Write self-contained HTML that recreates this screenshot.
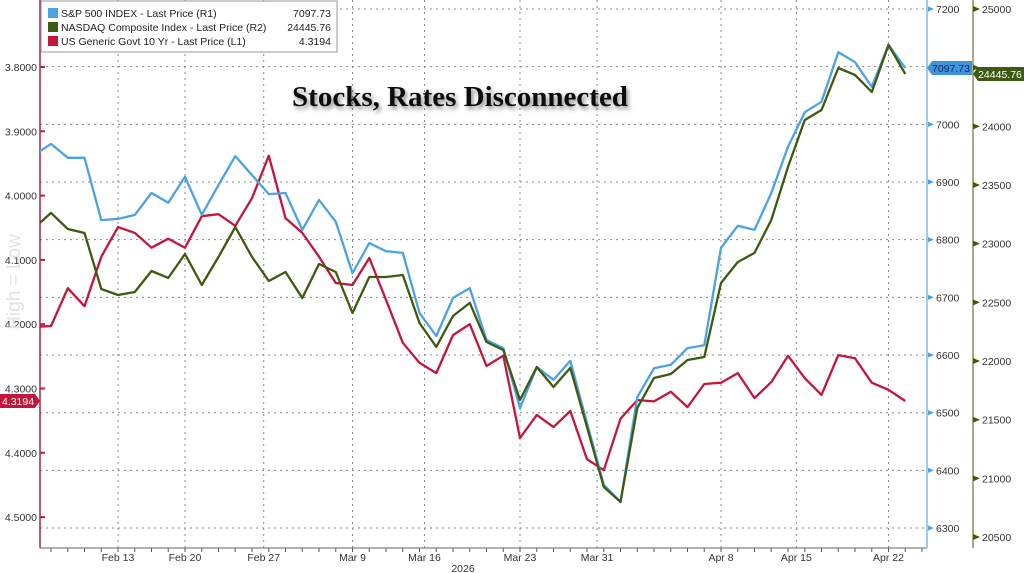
<!DOCTYPE html>
<html><head><meta charset="utf-8"><style>
body{margin:0;background:#fff;}
svg{display:block;font-family:"Liberation Sans",sans-serif;}
</style></head><body>
<svg id="chart" width="1024" height="573" viewBox="0 0 1024 573">
<defs><clipPath id="plotclip"><rect x="40" y="0" width="887" height="548"/></clipPath>
<filter id="sh" x="-10%" y="-50%" width="120%" height="200%"><feDropShadow dx="2" dy="3" stdDeviation="2" flood-color="#000" flood-opacity="0.45"/></filter></defs>
<g id="grid"></g>
<g id="axes"></g>
<g id="series" clip-path="url(#plotclip)"></g>
<text x="460" y="106" text-anchor="middle" font-family="'Liberation Serif',serif" font-weight="bold" font-size="29" fill="#111" filter="url(#sh)">Stocks, Rates Disconnected</text>
<text transform="translate(20,282) rotate(-90)" text-anchor="middle" font-size="19" fill="#e2e2e2">High = Low</text>
<g>
<rect x="41" y="1" width="296" height="51" fill="#fff" stroke="#999"/>
<g><rect x="48" y="8" width="10" height="10" fill="#4ba3e3"/><text x="61" y="17" font-size="10.5" fill="#222">S&amp;P 500 INDEX - Last Price (R1)</text><text x="331" y="17" font-size="10.5" fill="#222" text-anchor="end">7097.73</text></g>
<g><rect x="48" y="22" width="10" height="10" fill="#3d5a10"/><text x="61" y="31" font-size="10.5" fill="#222">NASDAQ Composite Index - Last Price (R2)</text><text x="331" y="31" font-size="10.5" fill="#222" text-anchor="end">24445.76</text></g>
<g><rect x="48" y="36" width="10" height="10" fill="#c4163c"/><text x="61" y="45" font-size="10.5" fill="#222">US Generic Govt 10 Yr - Last Price (L1)</text><text x="331" y="45" font-size="10.5" fill="#222" text-anchor="end">4.3194</text></g>
</g>
</svg>
<script>
const dateLabels=["Feb 13","Feb 20","Feb 27","Mar 9","Mar 16","Mar 23","Mar 31","Apr 8","Apr 15","Apr 22"];
const dateIdx=[5,9,13.7,19,23.3,29,33.6,41,45.5,51];
const spx=[6947,6966,6942,6942,6834,6836,6843,6881,6864,6909,6843,6895,6945,6912,6879,6881,6817,6869,6831,6742,6794,6780,6777,6673,6633,6699,6716,6626,6612,6508,6579,6557,6590,6482,6375,6345,6527,6577,6583,6612,6617,6786,6824,6817,6881,6961,7021,7039,7125,7108,7065,7138,7097.73];
const ndx=[23134,23262,23125,23091,22614,22563,22588,22767,22708,22912,22648,22887,23142,22887,22682,22759,22537,22827,22759,22409,22716,22716,22733,22324,22120,22384,22495,22162,22094,21668,21949,21779,21941,21438,20926,20799,21600,21855,21889,22009,22034,22665,22844,22921,23202,23654,24054,24139,24497,24438,24293,24693,24445.76];
const us10y=[4.204,4.203,4.144,4.172,4.095,4.049,4.058,4.081,4.067,4.081,4.032,4.029,4.047,4.004,3.938,4.035,4.058,4.095,4.136,4.139,4.097,4.162,4.229,4.260,4.276,4.217,4.200,4.265,4.249,4.377,4.341,4.360,4.335,4.410,4.427,4.347,4.318,4.320,4.305,4.329,4.293,4.291,4.276,4.315,4.290,4.249,4.284,4.310,4.248,4.253,4.291,4.302,4.3194];
const leftTicks=[3.8,3.9,4.0,4.1,4.2,4.3,4.4,4.5];
const spTicks=[6300,6400,6500,6600,6700,6800,6900,7000,7100,7200];
const ndTicks=[20500,21000,21500,22000,22500,23000,23500,24000,24500,25000];

const NS="http://www.w3.org/2000/svg";
const xS=i=>34.25+i*16.75;
const yL=v=>67+(v-3.8)*643;
const yS=v=>9+(7200-v)*0.5767;
const yN=v=>9+(25000-v)*0.11734;
function mk(tag,attrs,parent,txt){const e=document.createElementNS(NS,tag);for(const k in attrs)e.setAttribute(k,attrs[k]);if(txt!==undefined)e.textContent=txt;parent.appendChild(e);return e;}
const grid=document.getElementById('grid'),axes=document.getElementById('axes'),ser=document.getElementById('series');
spTicks.forEach(t=>{const y=yS(t);
 const l=mk('line',{x1:40,x2:927,y1:y,y2:y,stroke:'#888','stroke-dasharray':'2,4','stroke-width':1},grid);
 
 
 if(t!==7100){const tk=mk('path',{d:`M927 ${y-3} L934 ${y} L927 ${y+3}Z`,fill:'#4ba3e3'},axes);
 
 
 const tx=mk('text',{x:936,y:y+4,'font-size':10.5,fill:'#333'},axes,String(t));
 
 }
});
dateIdx.forEach((d,k)=>{const x=xS(d);
 const l=mk('line',{x1:x,x2:x,y1:0,y2:548,stroke:'#888','stroke-dasharray':'2,4','stroke-width':1},grid);
 
 
 const t=mk('text',{x:x,y:561,'font-size':10.5,fill:'#333','text-anchor':'middle'},axes,dateLabels[k]);
 
 
});
for(let i=1;i<=53;i++){const x=xS(i);if(x>925)break;
 const t=mk('line',{x1:x,x2:x,y1:548,y2:552,stroke:'#555'},axes);
 
 }
const yr=mk('text',{x:463,y:572,'font-size':10.5,fill:'#333','text-anchor':'middle'},axes,'2026');


const bl=mk('line',{x1:40,x2:927,y1:548,y2:548,stroke:'#666'},axes);


const ll=mk('line',{x1:40,x2:40,y1:0,y2:548,stroke:'#b0233f','stroke-width':1.5},axes);


const rl=mk('line',{x1:927,x2:927,y1:0,y2:548,stroke:'#9fcbe8','stroke-width':2},axes);


const nl=mk('line',{x1:973,x2:973,y1:0,y2:548,stroke:'#8a8f60','stroke-width':1.5},axes);


leftTicks.forEach(t=>{const y=yL(t);
 const tk=mk('line',{x1:40,x2:45,y1:y,y2:y,stroke:'#b0233f','stroke-width':2},axes);
 
 
 const tx=mk('text',{x:37,y:y+4,'font-size':10.5,fill:'#333','text-anchor':'end'},axes,t.toFixed(4));
 
 
});
ndTicks.forEach(t=>{const y=yN(t);
 const tk=mk('path',{d:`M973 ${y-3} L980 ${y} L973 ${y+3}Z`,fill:'#3d5a10'},axes);
 
 
 if(t!==24500){const tx=mk('text',{x:982,y:y+4,'font-size':10.5,fill:'#333'},axes,String(t));
 
 }
});
function line(data,yf,color,name){
 const d=data.map((v,i)=>(i?'L':'M')+xS(i).toFixed(1)+' '+yf(v).toFixed(1)).join(' ');
 const p=mk('path',{d:d,fill:'none',stroke:color,'stroke-width':2.3,'stroke-linejoin':'round'},ser);
 
 
}
line(us10y,yL,'#c4163c','us10y-line');
line(spx,yS,'#4ba3e3','sp500-line');
line(ndx,yN,'#3d5a10','nasdaq-line');
const ls=spx[spx.length-1],ln=ndx[ndx.length-1],lu=us10y[us10y.length-1];
let y=yS(ls);
const sb=mk('path',{d:`M927 ${y} L932 ${y-7} L972 ${y-7} L972 ${y+7} L932 ${y+7}Z`,fill:'#3f95dd'},axes);


const st=mk('text',{x:951,y:y+4,'font-size':10.5,fill:'#0a2a5a','text-anchor':'middle'},axes,ls.toFixed(2));


y=yN(ln);
const nb=mk('path',{d:`M973 ${y} L978 ${y-7} L1024 ${y-7} L1024 ${y+7} L978 ${y+7}Z`,fill:'#3d5a10'},axes);


const nt=mk('text',{x:1000,y:y+4,'font-size':10.5,fill:'#fff','text-anchor':'middle'},axes,ln.toFixed(2));


y=yL(lu);
const ub=mk('path',{d:`M0 ${y-7} L35 ${y-7} L40 ${y} L35 ${y+7} L0 ${y+7}Z`,fill:'#c4163c'},axes);


const ut=mk('text',{x:18,y:y+4,'font-size':10.5,fill:'#fff','text-anchor':'middle'},axes,lu.toFixed(4));


</script>
</body></html>
